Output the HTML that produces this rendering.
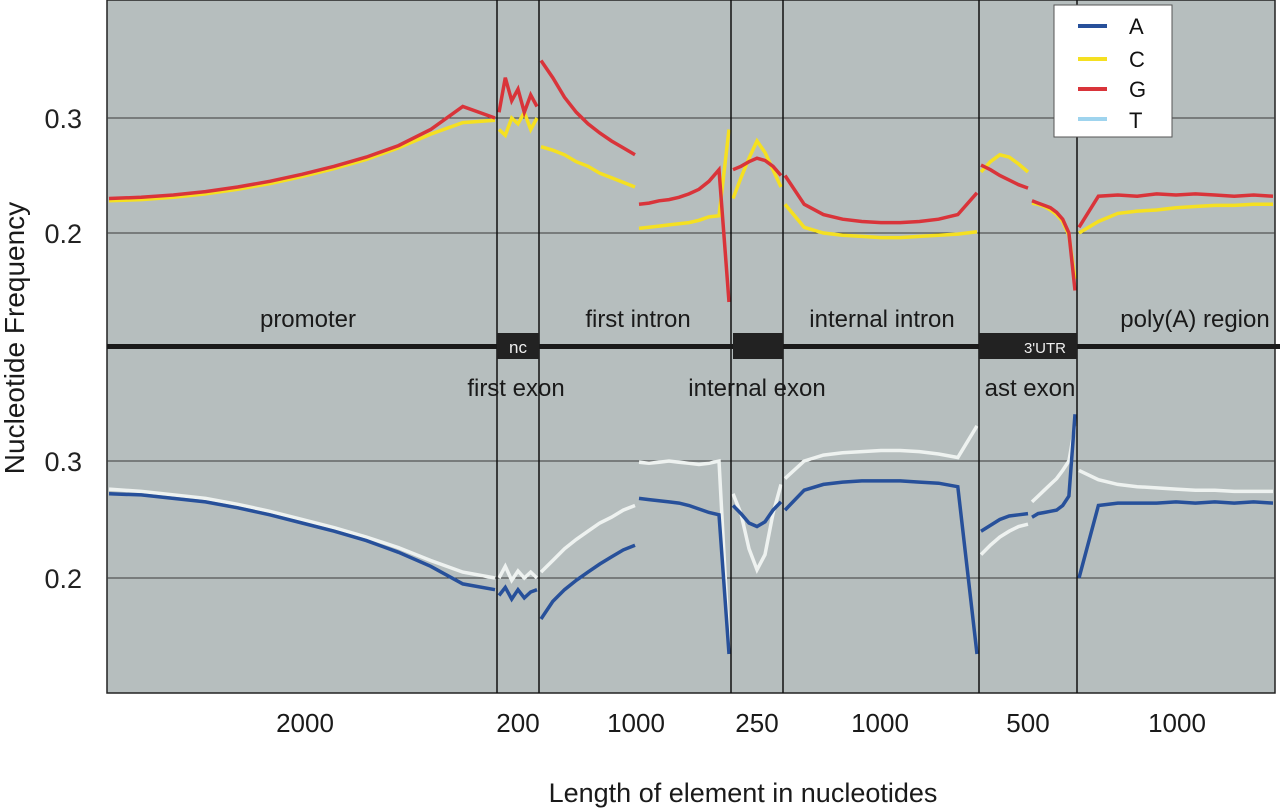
<!DOCTYPE html>
<html><head><meta charset="utf-8"><style>
html,body{margin:0;padding:0;background:#fff;width:1280px;height:809px;overflow:hidden}
svg{display:block;font-family:"Liberation Sans",sans-serif}
</style></head><body>
<svg id="chart" width="1280" height="809" viewBox="0 0 1280 809">
<rect x="107" y="0" width="1168" height="693" fill="#b6bebe" stroke="#222" stroke-width="1.5"/>
<g id="grid"></g>
<g id="series"></g>
<g id="overlay"></g>
</svg>
<script>
// ---- data ----
const segmentNames = ["promoter","first-exon","first-intron-start","first-intron-end","internal-exon","internal-intron","last-exon-start","last-exon-end","polya-region"];
const gValues = [
 [0.230,0.231,0.233,0.236,0.240,0.245,0.251,0.258,0.266,0.276,0.290,0.310,0.300],
 [0.305,0.335,0.315,0.325,0.305,0.320,0.310],
 [0.350,0.335,0.318,0.305,0.295,0.287,0.280,0.274,0.268],
 [0.225,0.226,0.228,0.229,0.231,0.234,0.238,0.245,0.255,0.140],
 [0.255,0.258,0.262,0.265,0.263,0.258,0.250],
 [0.250,0.225,0.216,0.212,0.210,0.209,0.209,0.210,0.212,0.216,0.235],
 [0.259,0.255,0.250,0.246,0.242,0.239],
 [0.228,0.226,0.224,0.222,0.218,0.212,0.200,0.150],
 [0.205,0.232,0.233,0.232,0.234,0.233,0.234,0.233,0.232,0.233,0.232]
];
const cValues = [
 [0.228,0.229,0.231,0.234,0.238,0.243,0.249,0.256,0.264,0.274,0.286,0.296,0.298],
 [0.290,0.285,0.300,0.295,0.305,0.290,0.300],
 [0.275,0.272,0.268,0.262,0.258,0.252,0.248,0.244,0.240],
 [0.204,0.205,0.206,0.207,0.208,0.209,0.211,0.214,0.215,0.290],
 [0.230,0.248,0.265,0.280,0.270,0.255,0.240],
 [0.225,0.205,0.200,0.198,0.197,0.196,0.196,0.197,0.198,0.199,0.201],
 [0.253,0.262,0.268,0.266,0.260,0.253],
 [0.226,0.225,0.223,0.220,0.216,0.210,0.198,0.160],
 [0.200,0.210,0.217,0.219,0.220,0.222,0.223,0.224,0.224,0.225,0.225]
];
const aValues = [
 [0.272,0.271,0.268,0.265,0.260,0.254,0.247,0.240,0.232,0.222,0.210,0.195,0.190],
 [0.185,0.192,0.182,0.190,0.183,0.188,0.190],
 [0.165,0.180,0.190,0.198,0.205,0.212,0.218,0.224,0.228],
 [0.268,0.267,0.266,0.265,0.264,0.262,0.259,0.256,0.254,0.135],
 [0.262,0.255,0.247,0.244,0.248,0.258,0.265],
 [0.258,0.275,0.280,0.282,0.283,0.283,0.283,0.282,0.281,0.278,0.135],
 [0.240,0.245,0.250,0.253,0.254,0.255],
 [0.252,0.255,0.256,0.257,0.258,0.262,0.270,0.340],
 [0.200,0.262,0.264,0.264,0.264,0.265,0.264,0.265,0.264,0.265,0.264]
];
const tValues = [
 [0.276,0.274,0.271,0.268,0.263,0.257,0.250,0.243,0.235,0.226,0.215,0.205,0.200],
 [0.200,0.210,0.198,0.206,0.200,0.205,0.200],
 [0.205,0.215,0.225,0.233,0.240,0.247,0.252,0.258,0.262],
 [0.299,0.298,0.299,0.300,0.299,0.298,0.297,0.298,0.300,0.140],
 [0.272,0.255,0.225,0.207,0.220,0.255,0.280],
 [0.285,0.300,0.305,0.307,0.308,0.309,0.309,0.308,0.306,0.303,0.330],
 [0.220,0.228,0.235,0.240,0.244,0.246],
 [0.265,0.270,0.275,0.280,0.285,0.292,0.300,0.330],
 [0.292,0.284,0.280,0.278,0.277,0.276,0.275,0.275,0.274,0.274,0.274]
];
const yTickLabels = ["0.3","0.2"];
const yTickValues = [0.3,0.2];
const xTickLabels = ["2000","200","1000","250","1000","500","1000"];
// ---- layout ----
const segBounds = [107,497,539,637,731,783,979,1030,1077,1275];
const boundaryLines = [497,539,731,783,979,1077];
const NS = "http://www.w3.org/2000/svg";
function topY(v){return 118 + (0.3 - v) * 1150;}
function botY(v){return 461 + (0.3 - v) * 1170;}
function segX(s,i,n){const a=segBounds[s]+2,b=segBounds[s+1]-2;return a+(b-a)*i/(n-1);}
function mk(tag,attrs,parent){const e=document.createElementNS(NS,tag);for(const k in attrs)e.setAttribute(k,attrs[k]);parent.appendChild(e);return e;}
const grid=document.getElementById('grid'), ser=document.getElementById('series'), ov=document.getElementById('overlay');
yTickValues.forEach((v,i)=>{
  [topY(v),botY(v)].forEach((y)=>{
    const l=mk('line',{x1:107,x2:1275,y1:y,y2:y,stroke:'#3a3a3a','stroke-width':1},grid);
    
    
    const t=mk('text',{x:82,y:y+10,'font-size':27,'text-anchor':'end',fill:'#222'},grid);
    t.textContent=yTickLabels[i];
    
    
  });
});
function drawSeries(vals,yf,color,name,w){
  vals.forEach((seg,s)=>{
    const pts=seg.map((v,i)=>segX(s,i,seg.length).toFixed(1)+','+yf(v).toFixed(1)).join(' ');
    const p=mk('polyline',{points:pts,fill:'none',stroke:color,'stroke-width':w,'stroke-linejoin':'miter'},ser);
    
    
  });
}
drawSeries(tValues,botY,'#eef2f0',"t",3.5);
drawSeries(aValues,botY,'#27509a',"a",3.5);
drawSeries(cValues,topY,'#f5e021',"c",3.5);
drawSeries(gValues,topY,'#d9343a',"g",3.5);
boundaryLines.forEach(x=>{
  const l=mk('line',{x1:x,x2:x,y1:0,y2:693,stroke:'#111','stroke-width':1.5},ov);
  
  
});
</script>
<svg width="1280" height="809" style="position:absolute;left:0;top:0" font-family="Liberation Sans, sans-serif">
<rect x="107" y="344" width="1173" height="5" fill="#1a1a1a"/>
<rect x="497" y="333" width="42" height="26" fill="#222"/>
<text x="518" y="353" font-size="17" fill="#eee" text-anchor="middle">nc</text>
<rect x="733" y="333" width="50" height="26" fill="#222"/>
<rect x="979" y="333" width="98" height="26" fill="#222"/>
<text x="1045" y="353" font-size="15" fill="#eee" text-anchor="middle">3'UTR</text>
<g font-size="24" fill="#1a1a1a" text-anchor="middle">
<text x="308" y="327">promoter</text>
<text x="638" y="327">first intron</text>
<text x="882" y="327">internal intron</text>
<text x="1195" y="327">poly(A) region</text>
<text x="516" y="396">first exon</text>
<text x="757" y="396">internal exon</text>
<text x="1030" y="396">ast exon</text>
</g>
<g font-size="26" fill="#1a1a1a" text-anchor="middle">
<text x="305" y="732">2000</text><text x="518" y="732">200</text><text x="636" y="732">1000</text>
<text x="757" y="732">250</text><text x="880" y="732">1000</text><text x="1028" y="732">500</text><text x="1177" y="732">1000</text>
</g>
<text x="743" y="802" font-size="27" fill="#1a1a1a" text-anchor="middle">Length of element in nucleotides</text>
<text transform="translate(24,338) rotate(-90)" font-size="28" fill="#1a1a1a" text-anchor="middle">Nucleotide Frequency</text>
<g>
<rect x="1054" y="5" width="118" height="132" fill="#fff" stroke="#555" stroke-width="1"/>
<line x1="1078" x2="1107" y1="26" y2="26" stroke="#27509a" stroke-width="4"/>
<line x1="1078" x2="1107" y1="59" y2="59" stroke="#f5e021" stroke-width="4"/>
<line x1="1078" x2="1107" y1="89" y2="89" stroke="#d9343a" stroke-width="4"/>
<line x1="1078" x2="1107" y1="119" y2="119" stroke="#9fd4ee" stroke-width="4"/>
<g font-size="22" fill="#111"><text x="1129" y="34">A</text><text x="1129" y="67">C</text><text x="1129" y="97">G</text><text x="1129" y="128">T</text></g>
</g>
</svg>
</body></html>
